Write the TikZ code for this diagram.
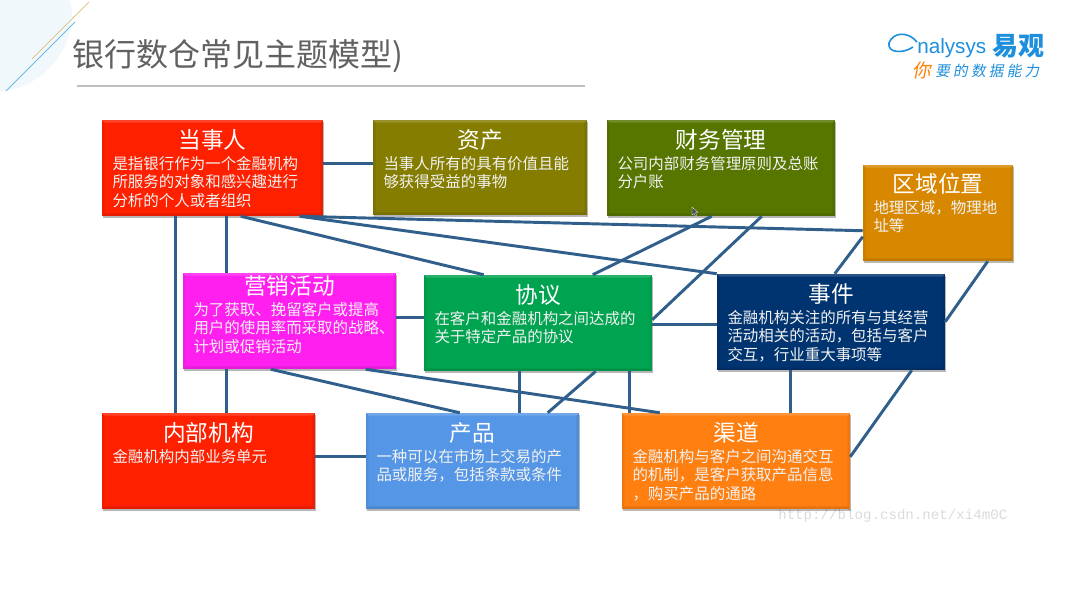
\documentclass[tikz,border=0pt]{standalone}
\usepackage{fontspec}
\setmainfont{Noto Sans CJK SC}
\newfontfamily\logolatin{Liberation Sans}
\newfontfamily\slantcjk[FakeSlant=0.18,LetterSpace=22]{Noto Sans CJK SC}
\newfontfamily\markfont{Liberation Mono}
\usetikzlibrary{shadows}
\definecolor{linkblue}{HTML}{2F5F8A}
\definecolor{logoblue}{HTML}{1E8FDC}
\definecolor{cRed}{HTML}{FF2000}
\definecolor{cOlive}{HTML}{857D00}
\definecolor{cLeaf}{HTML}{567600}
\definecolor{cAmber}{HTML}{D88800}
\definecolor{cPink}{HTML}{FF20F0}
\definecolor{cGreen}{HTML}{00A450}
\definecolor{cNavy}{HTML}{003470}
\definecolor{cSky}{HTML}{5596E6}
\definecolor{cOrange}{HTML}{FF7F10}
\definecolor{cWash}{HTML}{F1F8FC}
\definecolor{cTan}{HTML}{E3C88E}
\definecolor{cCyan}{HTML}{6DBBE0}
\tikzset{
  link/.style={draw=linkblue,line width=2.2pt},
  boxshape/.style={rectangle,inner sep=0pt,
    drop shadow={shadow xshift=.8pt,shadow yshift=-1.5pt,opacity=.28,fill=black},
    path picture={
      \fill[white,opacity=.16] (path picture bounding box.north west) -- (path picture bounding box.north east)
        -- ++(-2pt,-2pt) -- ([shift={(2pt,-2pt)}]path picture bounding box.north west) -- cycle;
      \fill[black,opacity=.10] (path picture bounding box.south west) -- (path picture bounding box.south east)
        -- ++(-2pt,2pt) -- ([shift={(2pt,2pt)}]path picture bounding box.south west) -- cycle;
      \fill[black,opacity=.06] (path picture bounding box.south east) -- (path picture bounding box.north east)
        -- ++(-2pt,-2pt) -- ([shift={(-2pt,2pt)}]path picture bounding box.south east) -- cycle;
      \fill[black,opacity=.06] (path picture bounding box.south west) -- (path picture bounding box.north west)
        -- ++(2pt,-2pt) -- ([shift={(2pt,2pt)}]path picture bounding box.south west) -- cycle;
    }},
  boxtitle/.style={text=white,inner sep=0pt,font=\fontsize{17}{20}\selectfont},
  boxbody/.style={text=white!95!black,inner sep=0pt,anchor=north west,align=left,font=\fontsize{11.6}{14}\selectfont},
}
% name, x1, y1, x2, y2, colour, title, title offset, body
\newcommand{\topicbox}[9]{%
  \node[boxshape,fill=#6,minimum width={(#4-#2)*0.75pt},minimum height={(#5-#3)*0.75pt}]
    (#1) at ({(#2+#4)/2},{(#3+#5)/2}) {};
  \node[boxtitle] (#1t) at ([shift={(0,#8+1)}]#1.north) {#7};
  \node[boxbody] (#1b) at ([shift={(10.5,#8+17)}]#1.north west) {#9};
}
\begin{document}
\begin{tikzpicture}[x=0.75pt,y=-0.75pt]
\useasboundingbox (0,0) rectangle (1080,608);
\fill[white] (0,0) rectangle (1080,608);
% corner decoration
\fill[cWash] (0,0) -- (70,0) .. controls (78,30) and (60,80) .. (6,91) -- (0,91) -- cycle;
\coordinate (blueA) at (6,91); \coordinate (blueB) at (75,22);
\coordinate (tanA) at (32,59); \coordinate (tanB) at (89,2);
\draw[cCyan,line width=.7pt] (blueA) -- (blueB);
\draw[cTan,line width=.7pt] (tanA) -- (tanB);
% page title
\node[anchor=west,inner sep=0pt,text=black!62,font=\fontsize{24}{28}\selectfont] (title) at (72,56) {银行数仓常见主题模型)};
\coordinate (ruleA) at (77,86); \coordinate (ruleB) at (585,86);
\draw[black!25,line width=.8pt] (ruleA) -- (ruleB);
% logo
\draw[logoblue,line width=1.2pt] (917,42) .. controls (908,31) and (893,32) .. (889,43)
   .. controls (887,53) and (903,54) .. (913,47);
\node[anchor=west,inner sep=0pt,text=logoblue,font=\logolatin\fontsize{15.5}{18}\selectfont] (logoa) at (917,48) {nalysys};
\node[anchor=west,inner sep=0pt,text=logoblue,font=\fontsize{19.5}{22}\bfseries\selectfont] (logob) at (992,46) {易观};
\node[anchor=west,inner sep=0pt,text=orange,font=\slantcjk\fontsize{14}{16}\selectfont] (logoc) at (912,70) {你};
\node[anchor=west,inner sep=0pt,text=logoblue,font=\slantcjk\fontsize{11}{14}\selectfont] (logod) at (935,71) {要的数据能力};
% watermark
\node[anchor=west,inner sep=0pt,text=black!14,font=\markfont\fontsize{10.6}{12}\selectfont] (mark) at (778,516) {http://blog.csdn.net/xi4m0C};
% boxes
\topicbox{party}{102}{120}{323}{216}{cRed}{当事人}{19}{是指银行作为一个金融机构\\所服务的对象和感兴趣进行\\分析的个人或者组织}
\topicbox{asset}{373}{120}{587}{215}{cOlive}{资产}{19}{当事人所有的具有价值且能\\够获得受益的事物}
\topicbox{finance}{607}{120}{835}{216}{cLeaf}{财务管理}{19}{公司内部财务管理原则及总账\\分户账}
\topicbox{region}{863}{165}{1013}{261}{cAmber}{区域位置}{18}{地理区域，物理地\\址等}
\topicbox{campaign}{183}{273}{396}{369}{cPink}{营销活动}{12}{为了获取、挽留客户或提高\\用户的使用率而采取的战略、\\计划或促销活动}
\topicbox{agreement}{424}{275}{652}{371}{cGreen}{协议}{19}{在客户和金融机构之间达成的\\关于特定产品的协议}
\topicbox{event}{717}{274}{945}{370}{cNavy}{事件}{19}{金融机构关注的所有与其经营\\活动相关的活动，包括与客户\\交互，行业重大事项等}
\topicbox{org}{102}{413}{315}{509}{cRed}{内部机构}{19}{金融机构内部业务单元}
\topicbox{product}{366}{413}{579}{509}{cSky}{产品}{19}{一种可以在市场上交易的产\\品或服务，包括条款或条件}
\topicbox{channel}{622}{413}{850}{509}{cOrange}{渠道}{19}{金融机构与客户之间沟通交互\\的机制，是客户获取产品信息\\，购买产品的通路}
% connectors
\draw[link] ([shift={(0,44)}]party.north east) -- ([shift={(0,44)}]asset.north west);
\draw[link] ([shift={(74,0)}]party.south west) -- ([shift={(74,0)}]org.north west);
\draw[link] ([shift={(125,0)}]party.south west) -- ([shift={(44,0)}]campaign.north west);
\draw[link] ([shift={(44,0)}]campaign.south west) -- ([shift={(125,0)}]org.north west);
\draw[link] ([shift={(139,0)}]party.south west) -- ([shift={(60,0)}]agreement.north west);
\draw[link] ([shift={(198,0)}]party.south west) -- ([shift={(0,66)}]region.north west);
\draw[link] ([shift={(198,0)}]party.south west) -- (event.north west);
\draw[link] ([shift={(105,0)}]finance.south west) -- ([shift={(169,0)}]agreement.north west);
\draw[link] ([shift={(155,0)}]finance.south west) -- ([shift={(0,45)}]agreement.north east);
\draw[link] ([shift={(0,72)}]region.north west) -- ([shift={(118,0)}]event.north west);
\draw[link] ([shift={(125,0)}]region.south west) -- ([shift={(0,48)}]event.north east);
\draw[link] ([shift={(195,0)}]event.south west) -- ([shift={(0,44)}]channel.north east);
\draw[link] ([shift={(0,50)}]agreement.north east) -- ([shift={(0,51)}]event.north west);
\draw[link] ([shift={(0,45)}]campaign.north east) -- ([shift={(0,43)}]agreement.north west);
\draw[link] ([shift={(0,44)}]org.north east) -- ([shift={(0,44)}]product.north west);
\draw[link] ([shift={(88,0)}]campaign.south west) -- ([shift={(94,0)}]product.north west);
\draw[link] ([shift={(183,0)}]campaign.south west) -- ([shift={(38,0)}]channel.north west);
\draw[link] ([shift={(96,0)}]agreement.south west) -- ([shift={(154,0)}]product.north west);
\draw[link] ([shift={(172,0)}]agreement.south west) -- ([shift={(182,0)}]product.north west);
\draw[link] ([shift={(206,0)}]agreement.south west) -- ([shift={(8,0)}]channel.north west);
\draw[link] ([shift={(74,0)}]event.south west) -- ([shift={(169,0)}]channel.north west);
% mouse pointer
\fill[black!70,draw=white,line width=.2pt] (692,207) -- (692,215) -- (694,213.5) -- (696,217) -- (697,216) -- (695.5,212.5) -- (698,212.5) -- cycle;
\end{tikzpicture}
\end{document}
